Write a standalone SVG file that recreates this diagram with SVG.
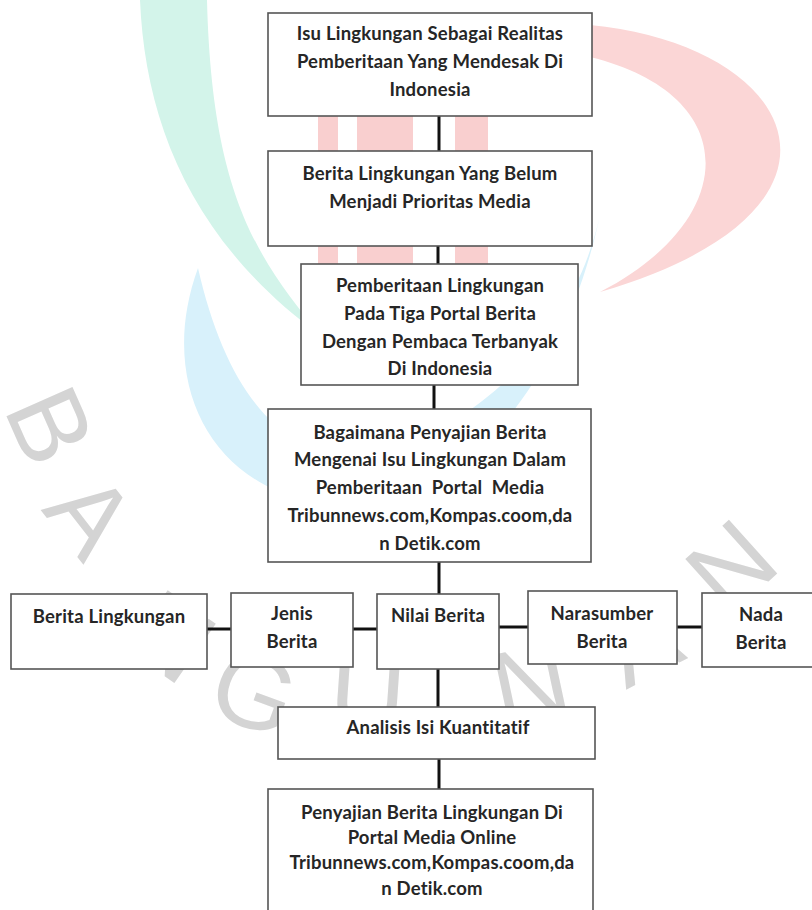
<svg xmlns="http://www.w3.org/2000/svg" width="812" height="910" viewBox="0 0 812 910">
<style>
.box{fill:#fff;stroke:#555;stroke-width:1.6}
.t{font-family:Lato,"Liberation Sans",sans-serif;font-weight:bold;font-size:18.5px;letter-spacing:0.2px;fill:#262626;text-anchor:middle}
.c{stroke:#111;stroke-width:3;fill:none}
.wm{font-family:"Liberation Sans",sans-serif;font-size:105px;fill:#d4d4d4;text-anchor:middle}
</style>
<rect width="812" height="910" fill="#fff"/>
<g id="watermark">
<path d="M140,0 C145,120 190,240 320,335 C260,260 212,200 207,0 Z" fill="#d3f4ea"/>
<path d="M590,25 C800,45 880,210 600,292 C740,220 745,95 590,57 Z" fill="#fbd6d6"/>
<rect x="318" y="100" width="20" height="175" fill="#f9cfcf"/>
<rect x="357" y="112" width="56" height="160" fill="#f9cfcf"/>
<rect x="455" y="100" width="33" height="175" fill="#f9cfcf"/>
<path d="M198,268 C150,400 230,520 380,505 C470,485 565,380 600,215 C575,330 485,425 380,452 C290,470 228,400 198,268 Z" fill="#d8f1fb"/>
<text class="wm" transform="translate(52,425) rotate(66)" y="38">B</text>
<text class="wm" transform="translate(92,514) rotate(52)" y="38">A</text>
<text class="wm" transform="translate(172,635) rotate(35)" y="38">N</text>
<text class="wm" transform="translate(255,690) rotate(20)" y="38">G</text>
<text class="wm" transform="translate(368,690) rotate(4)" y="38">U</text>
<text class="wm" transform="translate(530,682) rotate(-12)" y="38">N</text>
<text class="wm" transform="translate(640,640) rotate(-27)" y="38">A</text>
<text class="wm" transform="translate(730,565) rotate(-42)" y="38">N</text>
</g>
<g id="connectors">
<line class="c" x1="439" y1="116" x2="439" y2="151"/>
<line class="c" x1="438" y1="246" x2="438" y2="264"/>
<line class="c" x1="434" y1="385" x2="434" y2="409"/>
<line class="c" x1="439" y1="562" x2="439" y2="594"/>
<line class="c" x1="438" y1="669" x2="438" y2="707"/>
<line class="c" x1="439" y1="759" x2="439" y2="789"/>
<line class="c" x1="207" y1="629" x2="231" y2="629"/>
<line class="c" x1="353" y1="629" x2="377" y2="629"/>
<line class="c" x1="499" y1="627" x2="528" y2="627"/>
<line class="c" x1="677" y1="627" x2="702" y2="627"/>
</g>
<g id="n1"><rect class="box" x="268" y="13" width="324" height="103"/>
<text class="t" x="430" y="40">Isu Lingkungan Sebagai Realitas</text>
<text class="t" x="430" y="68">Pemberitaan Yang Mendesak Di</text>
<text class="t" x="430" y="96">Indonesia</text></g>
<g id="n2"><rect class="box" x="268" y="151" width="324" height="95"/>
<text class="t" x="430" y="180">Berita Lingkungan Yang Belum</text>
<text class="t" x="430" y="208">Menjadi Prioritas Media</text></g>
<g id="n3"><rect class="box" x="301" y="264" width="277" height="121"/>
<text class="t" x="440" y="292">Pemberitaan Lingkungan</text>
<text class="t" x="440" y="320">Pada Tiga Portal Berita</text>
<text class="t" x="440" y="348">Dengan Pembaca Terbanyak</text>
<text class="t" x="440" y="375">Di Indonesia</text></g>
<g id="n4"><rect class="box" x="268" y="409" width="323" height="153"/>
<text class="t" x="430" y="439">Bagaimana Penyajian Berita</text>
<text class="t" x="430" y="466">Mengenai Isu Lingkungan Dalam</text>
<text class="t" x="430" y="494" xml:space="preserve">Pemberitaan  Portal  Media</text>
<text class="t" x="430" y="522">Tribunnews.com,Kompas.coom,da</text>
<text class="t" x="430" y="550">n Detik.com</text></g>
<g id="n5"><rect class="box" x="11" y="594" width="196" height="75"/>
<text class="t" x="109" y="623">Berita Lingkungan</text></g>
<g id="n6"><rect class="box" x="231" y="593" width="122" height="74"/>
<text class="t" x="292" y="620">Jenis</text>
<text class="t" x="292" y="648">Berita</text></g>
<g id="n7"><rect class="box" x="377" y="594" width="122" height="75"/>
<text class="t" x="438" y="622">Nilai Berita</text></g>
<g id="n8"><rect class="box" x="528" y="591" width="149" height="73"/>
<text class="t" x="602" y="620">Narasumber</text>
<text class="t" x="602" y="648">Berita</text></g>
<g id="n9"><rect class="box" x="702" y="593" width="115" height="74"/>
<text class="t" x="761" y="621">Nada</text>
<text class="t" x="761" y="649">Berita</text></g>
<g id="n10"><rect class="box" x="278" y="707" width="317" height="52"/>
<text class="t" x="438" y="734">Analisis Isi Kuantitatif</text></g>
<g id="n11"><rect class="box" x="268" y="789" width="325" height="135"/>
<text class="t" x="432" y="819">Penyajian Berita Lingkungan Di</text>
<text class="t" x="432" y="844">Portal Media Online</text>
<text class="t" x="432" y="869">Tribunnews.com,Kompas.coom,da</text>
<text class="t" x="432" y="895">n Detik.com</text></g>
</svg>
